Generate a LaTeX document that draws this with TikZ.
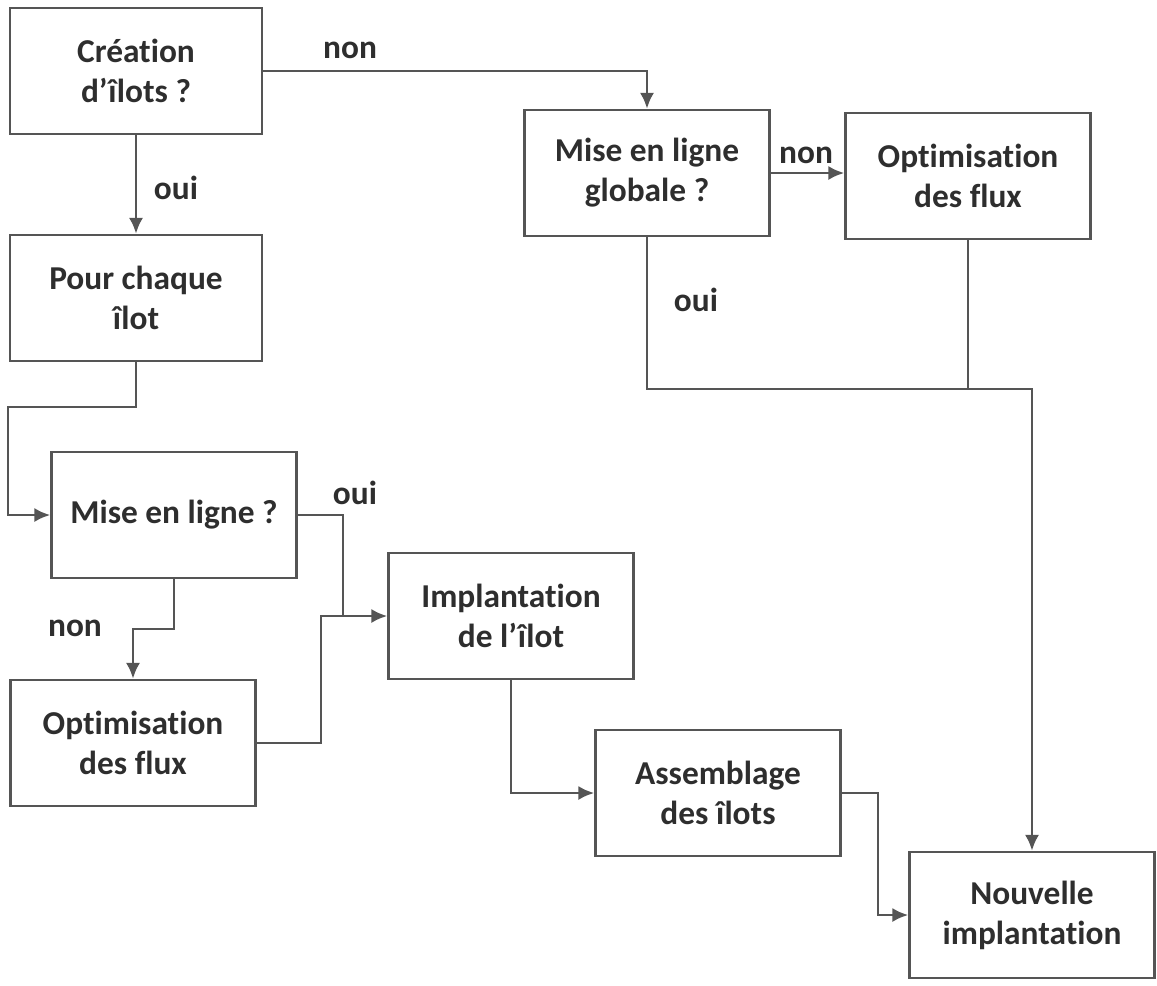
\documentclass[tikz,border=0pt]{standalone}
\usepackage{fontspec}
\setmainfont{Carlito}[Ligatures=NoCommon]
\usetikzlibrary{arrows.meta}
\definecolor{txtgray}{HTML}{2E2E2E}
\definecolor{linegray}{HTML}{555555}
\tikzset{
  boite/.style={draw=linegray, line width=1.4pt, minimum width=4.9cm, minimum height=2.52cm,
    align=center, text=txtgray, font=\fontsize{19}{22.7}\selectfont\bfseries},
  reponse/.style={text=txtgray, font=\fontsize{19}{22}\selectfont\bfseries},
  lien/.style={draw=linegray, line width=1.6pt}
}
\begin{document}
\begin{tikzpicture}[x=0.02cm, y=-0.02cm, >={Latex[length=9pt,width=8pt]}]
  \useasboundingbox (0,0) rectangle (1157,985);

  % 1. boites
  \node[boite, minimum width=5.04cm] (creation) at (136,71) {Création\\d’îlots ?};
  \node[boite, minimum width=5.04cm] (chaque) at (136,298) {Pour chaque\\îlot};
  \node[boite] (ligne) at (174,515) {Mise en ligne ?};
  \node[boite] (optiA) at (133,743) {Optimisation\\des flux};
  \node[boite] (implant) at (511,616) {Implantation\\de l’îlot};
  \node[boite] (assemb) at (718,793) {Assemblage\\des îlots};
  \node[boite] (nouv) at (1032,915) {Nouvelle\\implantation};
  \node[boite] (globale) at (647,173) {Mise en ligne\\globale ?};
  \node[boite] (optiB) at (968,176) {Optimisation\\des flux};

  % 2. points de coude
  \coordinate (k1) at (8,407);
  \coordinate (k2) at (174,629);
  \coordinate (k3) at (321,616);
  \coordinate (jn) at (343,616);
  \coordinate (k4) at (647,389);
  \coordinate (k5) at (878,793);

  % 3. liaisons
  \draw[lien, ->] (creation.east) -| (globale.north);
  \draw[lien, ->] (creation.south) -- (chaque.north);
  \draw[lien, ->] (chaque.south) |- (k1) |- (ligne.west);
  \draw[lien, ->] (ligne.east) -| (jn) -- (implant.west);
  \draw[lien, ->] (ligne.south) -- (k2) -| (optiA.north);
  \draw[lien] (optiA.east) -| (k3) -- (jn);
  \draw[lien, ->] (globale.east) -- (optiB.west |- globale.east);
  \draw[lien, ->] (globale.south) -- (k4) -| (nouv.north);
  \draw[lien] (optiB.south) -- (optiB.south |- k4);
  \draw[lien, ->] (implant.south) |- (assemb.west);
  \draw[lien, ->] (assemb.east) -- (k5) |- (nouv.west);

  % 4. reponses
  \node[reponse] (r1) at (350,50) {non};
  \node[reponse] (r2) at (176,188) {oui};
  \node[reponse] (r3) at (355,493) {oui};
  \node[reponse] (r4) at (75,628) {non};
  \node[reponse] (r5) at (806,155) {non};
  \node[reponse] (r6) at (696,300) {oui};

\end{tikzpicture}
\end{document}
